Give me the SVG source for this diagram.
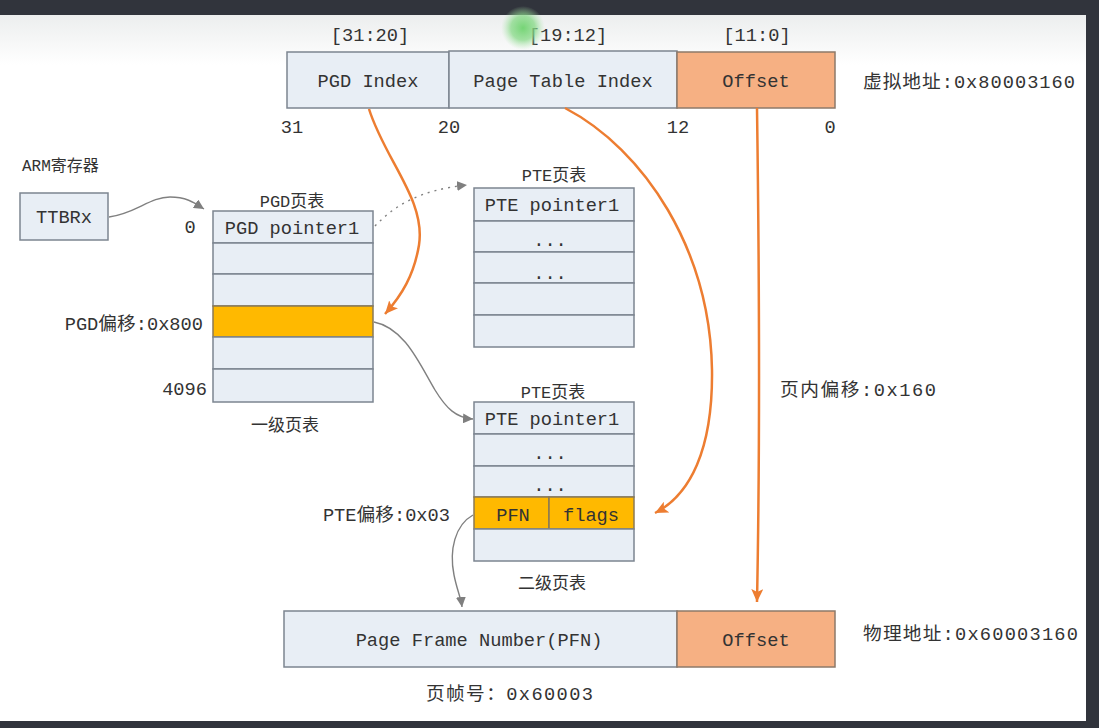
<svg xmlns="http://www.w3.org/2000/svg" width="1099" height="728" viewBox="0 0 1099 728">
<defs>
<linearGradient id="bgTop" x1="0" y1="0" x2="0" y2="1">
<stop offset="0" stop-color="#eceeee"/>
<stop offset="1" stop-color="#ffffff"/>
</linearGradient>
<radialGradient id="glow" cx="0.5" cy="0.5" r="0.5">
<stop offset="0" stop-color="#6fd36f" stop-opacity="0.95"/>
<stop offset="0.55" stop-color="#86d986" stop-opacity="0.75"/>
<stop offset="1" stop-color="#b5e8b5" stop-opacity="0"/>
</radialGradient>
<marker id="arrO" markerUnits="userSpaceOnUse" markerWidth="14" markerHeight="12" refX="13" refY="6" orient="auto">
<path d="M0,0 L13,6 L0,12 L3,6 z" fill="#ED7D31"/>
</marker>
<marker id="arrG" markerUnits="userSpaceOnUse" markerWidth="11" markerHeight="10" refX="10" refY="5" orient="auto">
<path d="M0,0 L10,5 L0,10 z" fill="#7f7f7f"/>
</marker>
<style>
.cell{fill:#e8eef5;stroke:#7c8590;stroke-width:1.5}
.hl{fill:#ffb900;stroke:#8a7a55;stroke-width:1.5}
.off{fill:#f6b083;stroke:#8d7a6a;stroke-width:1.5}
.t{font-family:"Liberation Mono","Noto Sans CJK SC",monospace;font-size:18.7px;fill:#333333}
.s{font-family:"Liberation Mono","Noto Sans CJK SC",monospace;font-size:17px;fill:#333333}
.c{text-anchor:middle}
.e{text-anchor:end}
.og{fill:none;stroke:#ED7D31;stroke-width:2.5}
.gr{fill:none;stroke:#808080;stroke-width:1.4}
</style>
</defs>

<rect x="0" y="0" width="1099" height="728" fill="#ffffff"/>
<rect x="0" y="15" width="1086" height="50" fill="url(#bgTop)"/>

<g id="virtual-address">
<text class="t c" x="370" y="41">[31:20]</text>
<text class="t c" x="568" y="41">[19:12]</text>
<text class="t c" x="757" y="41">[11:0]</text>
<rect class="cell" x="287" y="52" width="162" height="56"/>
<rect class="cell" x="449" y="51" width="228" height="57"/>
<rect class="off" x="677" y="52" width="158" height="56"/>
<text class="t c" x="368" y="87">PGD Index</text>
<text class="t c" x="563" y="87">Page Table Index</text>
<text class="t c" x="756" y="87">Offset</text>
<text class="t c" x="292" y="133">31</text>
<text class="t c" x="449" y="133">20</text>
<text class="t c" x="678" y="133">12</text>
<text class="t c" x="830" y="133">0</text>
<text class="t" x="863" y="88" textLength="212">虚拟地址:0x80003160</text>
</g>

<g id="ttbrx">
<text class="s" x="22" y="171" style="font-size:16px">ARM寄存器</text>
<rect class="cell" x="20" y="193" width="88" height="47"/>
<text class="t c" x="64" y="223">TTBRx</text>
</g>

<g id="pgd-table">
<text class="s c" x="292" y="207">PGD页表</text>
<text class="t c" x="190" y="233">0</text>
<rect class="cell" x="213" y="211" width="160" height="32"/>
<rect class="cell" x="213" y="243" width="160" height="31"/>
<rect class="cell" x="213" y="274" width="160" height="32"/>
<rect class="hl" x="213" y="306" width="160" height="31"/>
<rect class="cell" x="213" y="337" width="160" height="32"/>
<rect class="cell" x="213" y="369" width="160" height="33"/>
<text class="t c" x="292" y="234">PGD pointer1</text>
<text class="t e" x="203" y="330">PGD偏移:0x800</text>
<text class="t e" x="207" y="395">4096</text>
<text class="s c" x="285" y="431">一级页表</text>
</g>

<g id="pte-table-1">
<text class="s c" x="554" y="181">PTE页表</text>
<rect class="cell" x="474" y="188" width="160" height="33"/>
<rect class="cell" x="474" y="221" width="160" height="31"/>
<rect class="cell" x="474" y="252" width="160" height="31"/>
<rect class="cell" x="474" y="283" width="160" height="32"/>
<rect class="cell" x="474" y="315" width="160" height="32"/>
<text class="t c" x="552" y="211">PTE pointer1</text>
<text class="t c" x="550" y="246">...</text>
<text class="t c" x="550" y="279">...</text>
</g>

<g id="pte-table-2">
<text class="s c" x="553" y="398">PTE页表</text>
<rect class="cell" x="474" y="402" width="160" height="32"/>
<rect class="cell" x="474" y="434" width="160" height="32"/>
<rect class="cell" x="474" y="466" width="160" height="31"/>
<rect class="hl" x="474" y="497" width="75" height="32"/>
<rect class="hl" x="549" y="497" width="85" height="32"/>
<rect class="cell" x="474" y="529" width="160" height="32"/>
<text class="t c" x="552" y="425">PTE pointer1</text>
<text class="t c" x="550" y="459">...</text>
<text class="t c" x="550" y="491">...</text>
<text class="t c" x="513" y="521">PFN</text>
<text class="t c" x="591" y="521">flags</text>
<text class="t e" x="450" y="521">PTE偏移:0x03</text>
<text class="s c" x="552" y="589">二级页表</text>
</g>

<g id="physical-address">
<rect class="cell" x="284" y="611" width="393" height="56"/>
<rect class="off" x="677" y="611" width="158" height="56"/>
<text class="t c" x="479" y="646">Page Frame Number(PFN)</text>
<text class="t c" x="756" y="646">Offset</text>
<text class="t" x="863" y="640" textLength="215">物理地址:0x60003160</text>
<text class="t" x="426" y="700" textLength="167">页帧号：0x60003</text>
</g>

<g id="offset-label">
<text class="t" x="780" y="396" textLength="156">页内偏移:0x160</text>
</g>

<g id="connectors">
<path class="gr" d="M109,217 C135,214 150,197 170,197 C188,197 196,204 204,209" marker-end="url(#arrG)"/>
<path class="gr" d="M375,226 C395,205 420,190 467,185" stroke-dasharray="2,5" marker-end="url(#arrG)"/>
<path class="og" d="M369,109 C385,160 426,200 419,245 C414,275 402,295 385,314" marker-end="url(#arrO)"/>
<path class="gr" d="M374,322 C405,328 420,365 435,390 C446,408 456,418 473,419" marker-end="url(#arrG)"/>
<path class="og" d="M565,108 C645,150 710,250 712,370 C713,450 690,495 655,513" marker-end="url(#arrO)"/>
<path class="og" d="M757,108 C759,250 760,450 757,602" marker-end="url(#arrO)"/>
<path class="gr" d="M473,515 C455,525 449,550 454,575 C457,590 461,598 462,607" marker-end="url(#arrG)"/>
</g>

<rect x="0" y="0" width="1099" height="15" fill="#31343c"/>
<rect x="1086" y="0" width="13" height="728" fill="#31343c"/>
<rect x="0" y="721" width="1099" height="7" fill="#31343c"/>

<circle cx="523" cy="28" r="22" fill="url(#glow)"/>
</svg>
